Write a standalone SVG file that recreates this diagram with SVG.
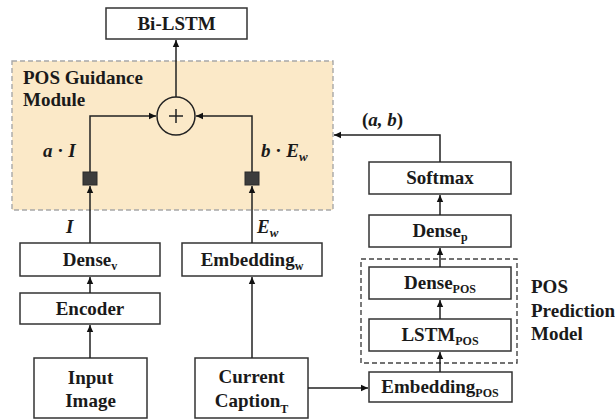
<svg xmlns="http://www.w3.org/2000/svg" width="615" height="419" viewBox="0 0 615 419">
  <style>
    .box { fill: #ffffff; stroke: #333333; stroke-width: 1.5; }
    .lbl { font-family: 'Liberation Serif', 'Times New Roman', serif; font-weight: bold; font-size: 19px; fill: #1a1a1a; }
    .mid { text-anchor: middle; }
    .sub { font-size: 12px; }
    .math { font-family: 'Liberation Serif', 'Times New Roman', serif; font-weight: bold; font-style: italic; font-size: 19px; fill: #1a1a1a; }
    .up { font-style: normal; }
    .wire { fill: none; stroke: #222222; stroke-width: 1.5; }
    .gate { fill: #3c3c3c; stroke: #2a2a2a; stroke-width: 1; }
  </style>
  <defs>
    <marker id="arrow" markerWidth="8" markerHeight="8" refX="7" refY="4" orient="auto" markerUnits="userSpaceOnUse">
      <path d="M0,0.8 L7,4 L0,7.2 Z" fill="#111111"/>
    </marker>
  </defs>

  <!-- POS guidance module area -->
  <g id="guidance-module">
    <rect x="12" y="61" width="321" height="149" fill="#fbe9c8" stroke="#a8a8a8" stroke-width="1.4" stroke-dasharray="5,3"/>
    <text class="lbl" x="23" y="84">POS Guidance</text>
    <text class="lbl" x="23" y="106">Module</text>
  </g>

  <!-- POS prediction model frame -->
  <g id="pos-prediction-model">
    <rect x="361" y="259" width="156" height="104" fill="none" stroke="#444444" stroke-width="1.4" stroke-dasharray="5,3"/>
    <text class="lbl" x="531" y="293">POS</text>
    <text class="lbl" x="531" y="317">Prediction</text>
    <text class="lbl" x="531" y="340">Model</text>
  </g>

  <g id="bi-lstm">
    <rect class="box" x="106" y="8" width="141" height="31"/>
    <text class="lbl mid" x="176.5" y="30">Bi-LSTM</text>
  </g>

  <g id="sum">
    <circle cx="176" cy="116" r="19" fill="none" stroke="#222222" stroke-width="1.5"/>
    <path d="M169,116 H183 M176,109 V123" stroke="#222222" stroke-width="1.5"/>
  </g>

  <g id="gate-image">
    <rect class="gate" x="83" y="172" width="14" height="13"/>
  </g>
  <g id="gate-word">
    <rect class="gate" x="245" y="172" width="14" height="13"/>
  </g>

  <g id="dense-v">
    <rect class="box" x="20" y="243" width="140" height="33"/>
    <text class="lbl mid" x="90" y="266">Dense<tspan class="sub" dy="4">v</tspan></text>
  </g>

  <g id="encoder">
    <rect class="box" x="20" y="293" width="140" height="31"/>
    <text class="lbl mid" x="90" y="315">Encoder</text>
  </g>

  <g id="input-image">
    <rect class="box" x="34" y="358" width="113" height="60"/>
    <text class="lbl mid" x="90.5" y="384">Input</text>
    <text class="lbl mid" x="90.5" y="407">Image</text>
  </g>

  <g id="embedding-w">
    <rect class="box" x="182" y="243" width="140" height="33"/>
    <text class="lbl mid" x="252" y="266">Embedding<tspan class="sub" dy="4">w</tspan></text>
  </g>

  <g id="current-caption">
    <rect class="box" x="195" y="358" width="113" height="60"/>
    <text class="lbl mid" x="251.5" y="383">Current</text>
    <text class="lbl mid" x="251.5" y="407">Caption<tspan class="sub" font-size="14" dy="6">T</tspan></text>
  </g>

  <g id="softmax">
    <rect class="box" x="369" y="162" width="142" height="32"/>
    <text class="lbl mid" x="440" y="184">Softmax</text>
  </g>

  <g id="dense-p">
    <rect class="box" x="369" y="215" width="142" height="32"/>
    <text class="lbl mid" x="440" y="237">Dense<tspan class="sub" dy="4">p</tspan></text>
  </g>

  <g id="dense-pos">
    <rect class="box" x="369" y="267" width="142" height="32"/>
    <text class="lbl mid" x="440" y="289">Dense<tspan class="sub" dy="4">POS</tspan></text>
  </g>

  <g id="lstm-pos">
    <rect class="box" x="369" y="319" width="142" height="32"/>
    <text class="lbl mid" x="440" y="341">LSTM<tspan class="sub" dy="4">POS</tspan></text>
  </g>

  <g id="embedding-pos">
    <rect class="box" x="369" y="372" width="143" height="30"/>
    <text class="lbl mid" x="440" y="393">Embedding<tspan class="sub" dy="4">POS</tspan></text>
  </g>

  <!-- connectors -->
  <g id="connectors">
    <path class="wire" d="M176,97 V40" marker-end="url(#arrow)"/>
    <path class="wire" d="M90,172 V116 H156" marker-end="url(#arrow)"/>
    <path class="wire" d="M252,172 V116 H196" marker-end="url(#arrow)"/>
    <path class="wire" d="M90,243 V186" marker-end="url(#arrow)"/>
    <path class="wire" d="M252,243 V186" marker-end="url(#arrow)"/>
    <path class="wire" d="M90,293 V277" marker-end="url(#arrow)"/>
    <path class="wire" d="M90,358 V325" marker-end="url(#arrow)"/>
    <path class="wire" d="M252,358 V277" marker-end="url(#arrow)"/>
    <path class="wire" d="M308,388 H368" marker-end="url(#arrow)"/>
    <path class="wire" d="M440,372 V352" marker-end="url(#arrow)"/>
    <path class="wire" d="M440,319 V300" marker-end="url(#arrow)"/>
    <path class="wire" d="M440,267 V248" marker-end="url(#arrow)"/>
    <path class="wire" d="M440,215 V195" marker-end="url(#arrow)"/>
    <path class="wire" d="M440,162 V135 H334" marker-end="url(#arrow)"/>
  </g>

  <!-- signal labels -->
  <g id="signal-labels">
    <text class="math" x="43" y="157">a <tspan class="up">·</tspan> I</text>
    <text class="math" x="261" y="157">b <tspan class="up">·</tspan> E<tspan font-size="13" dy="4">w</tspan></text>
    <text class="math" x="66" y="233">I</text>
    <text class="math" x="257" y="233">E<tspan font-size="13" dy="4">w</tspan></text>
    <text class="math" x="362" y="126"><tspan class="up">(</tspan>a, b<tspan class="up">)</tspan></text>
  </g>
</svg>
